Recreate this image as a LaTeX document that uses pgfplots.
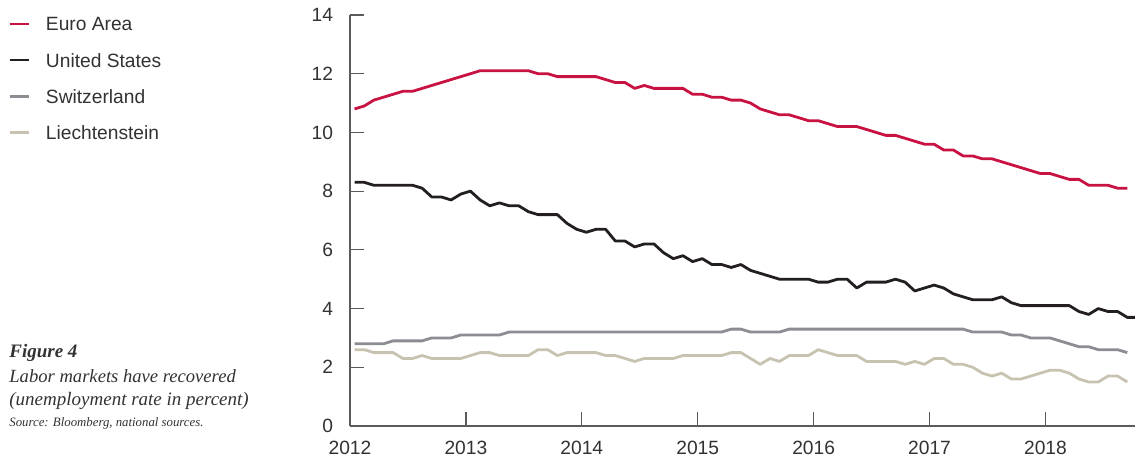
\documentclass[border=0pt]{standalone}
\usepackage{pgfplots}
\pgfplotsset{compat=1.18}
\usepackage{pgfplotstable}
\usepackage{fontspec}
\setmainfont{Liberation Sans}
\newfontfamily\capfont{Liberation Serif}
\definecolor{euro}{RGB}{200,18,66}
\definecolor{usa}{RGB}{35,31,32}
\definecolor{swiss}{RGB}{140,140,146}
\definecolor{liech}{RGB}{200,195,176}
\definecolor{axisgray}{RGB}{90,90,90}
\definecolor{txt}{RGB}{50,50,50}

\pgfplotstableread{
n v
0 10.8
1 10.9
2 11.1
3 11.2
4 11.3
5 11.4
6 11.4
7 11.5
8 11.6
9 11.7
10 11.8
11 11.9
12 12.0
13 12.1
14 12.1
15 12.1
16 12.1
17 12.1
18 12.1
19 12.0
20 12.0
21 11.9
22 11.9
23 11.9
24 11.9
25 11.9
26 11.8
27 11.7
28 11.7
29 11.5
30 11.6
31 11.5
32 11.5
33 11.5
34 11.5
35 11.3
36 11.3
37 11.2
38 11.2
39 11.1
40 11.1
41 11.0
42 10.8
43 10.7
44 10.6
45 10.6
46 10.5
47 10.4
48 10.4
49 10.3
50 10.2
51 10.2
52 10.2
53 10.1
54 10.0
55 9.9
56 9.9
57 9.8
58 9.7
59 9.6
60 9.6
61 9.4
62 9.4
63 9.2
64 9.2
65 9.1
66 9.1
67 9.0
68 8.9
69 8.8
70 8.7
71 8.6
72 8.6
73 8.5
74 8.4
75 8.4
76 8.2
77 8.2
78 8.2
79 8.1
80 8.1
}\euro

\pgfplotstableread{
n v
0 8.3
1 8.3
2 8.2
3 8.2
4 8.2
5 8.2
6 8.2
7 8.1
8 7.8
9 7.8
10 7.7
11 7.9
12 8.0
13 7.7
14 7.5
15 7.6
16 7.5
17 7.5
18 7.3
19 7.2
20 7.2
21 7.2
22 6.9
23 6.7
24 6.6
25 6.7
26 6.7
27 6.3
28 6.3
29 6.1
30 6.2
31 6.2
32 5.9
33 5.7
34 5.8
35 5.6
36 5.7
37 5.5
38 5.5
39 5.4
40 5.5
41 5.3
42 5.2
43 5.1
44 5.0
45 5.0
46 5.0
47 5.0
48 4.9
49 4.9
50 5.0
51 5.0
52 4.7
53 4.9
54 4.9
55 4.9
56 5.0
57 4.9
58 4.6
59 4.7
60 4.8
61 4.7
62 4.5
63 4.4
64 4.3
65 4.3
66 4.3
67 4.4
68 4.2
69 4.1
70 4.1
71 4.1
72 4.1
73 4.1
74 4.1
75 3.9
76 3.8
77 4.0
78 3.9
79 3.9
80 3.7
81 3.7
}\usa

\pgfplotstableread{
n v
0 2.8
1 2.8
2 2.8
3 2.8
4 2.9
5 2.9
6 2.9
7 2.9
8 3.0
9 3.0
10 3.0
11 3.1
12 3.1
13 3.1
14 3.1
15 3.1
16 3.2
17 3.2
18 3.2
19 3.2
20 3.2
21 3.2
22 3.2
23 3.2
24 3.2
25 3.2
26 3.2
27 3.2
28 3.2
29 3.2
30 3.2
31 3.2
32 3.2
33 3.2
34 3.2
35 3.2
36 3.2
37 3.2
38 3.2
39 3.3
40 3.3
41 3.2
42 3.2
43 3.2
44 3.2
45 3.3
46 3.3
47 3.3
48 3.3
49 3.3
50 3.3
51 3.3
52 3.3
53 3.3
54 3.3
55 3.3
56 3.3
57 3.3
58 3.3
59 3.3
60 3.3
61 3.3
62 3.3
63 3.3
64 3.2
65 3.2
66 3.2
67 3.2
68 3.1
69 3.1
70 3.0
71 3.0
72 3.0
73 2.9
74 2.8
75 2.7
76 2.7
77 2.6
78 2.6
79 2.6
80 2.5
}\swiss

\pgfplotstableread{
n v
0 2.6
1 2.6
2 2.5
3 2.5
4 2.5
5 2.3
6 2.3
7 2.4
8 2.3
9 2.3
10 2.3
11 2.3
12 2.4
13 2.5
14 2.5
15 2.4
16 2.4
17 2.4
18 2.4
19 2.6
20 2.6
21 2.4
22 2.5
23 2.5
24 2.5
25 2.5
26 2.4
27 2.4
28 2.3
29 2.2
30 2.3
31 2.3
32 2.3
33 2.3
34 2.4
35 2.4
36 2.4
37 2.4
38 2.4
39 2.5
40 2.5
41 2.3
42 2.1
43 2.3
44 2.2
45 2.4
46 2.4
47 2.4
48 2.6
49 2.5
50 2.4
51 2.4
52 2.4
53 2.2
54 2.2
55 2.2
56 2.2
57 2.1
58 2.2
59 2.1
60 2.3
61 2.3
62 2.1
63 2.1
64 2.0
65 1.8
66 1.7
67 1.8
68 1.6
69 1.6
70 1.7
71 1.8
72 1.9
73 1.9
74 1.8
75 1.6
76 1.5
77 1.5
78 1.7
79 1.7
80 1.5
}\liech

\begin{document}
\begin{tikzpicture}
\useasboundingbox (0,0) rectangle (567.5pt,230pt);
\begin{axis}[
  at={(175pt,17pt)}, anchor=south west,
  scale only axis, width=392.5pt, height=205.5pt,
  xmin=-0.47, xmax=80.8, ymin=0, ymax=14,
  axis x line*=bottom, axis y line*=left,
  axis line style={-, draw=axisgray, line width=0.6pt},
  xtick={-0.47,11.53,23.53,35.53,47.53,59.53,71.53},
  xticklabels={2012,2013,2014,2015,2016,2017,2018},
  ytick={0,2,4,6,8,10,12,14},
  tick align=inside, major tick length=7pt,
  tick style={draw=axisgray, line width=0.6pt},
  /pgf/number format/assume math mode=true,
  ticklabel style={font=\fontsize{9.6}{11}\selectfont, text=txt},
  yticklabel style={xshift=-5pt},
  xticklabel style={yshift=-4pt},
  legend cell align=left,
  legend style={at={(axis description cs:-0.4357,0.9963)}, anchor=north west,
    draw=none, fill=none, inner sep=0pt, row sep=11.1pt, column sep=8pt,
    font=\fontsize{9.6}{11}\selectfont, text=txt,
    nodes={inner sep=0pt, text height=7pt, text depth=0pt}},
  legend image code/.code={\draw[#1, line width=1.3pt] (0pt,0pt) -- (9.5pt,0pt);},
  every axis plot/.append style={line width=1.4pt, line join=round},
]
\addplot[euro] table[x=n, y=v] {\euro};
\addlegendentry{Euro Area}
\addplot[usa] table[x=n, y=v] {\usa};
\addlegendentry{United States}
\addplot[swiss] table[x=n, y=v] {\swiss};
\addlegendentry{Switzerland}
\addplot[liech] table[x=n, y=v] {\liech};
\addlegendentry{Liechtenstein}
\end{axis}
\node[anchor=base west, inner sep=0pt, text=txt] at (4.5pt,51pt) {\capfont\fontsize{9.5}{11}\selectfont\itshape\bfseries Figure 4};
\node[anchor=base west, inner sep=0pt, text=txt] at (4.5pt,38.5pt) {\capfont\fontsize{9.3}{11}\selectfont\itshape Labor markets have recovered};
\node[anchor=base west, inner sep=0pt, text=txt] at (4.5pt,27pt) {\capfont\fontsize{9.5}{11}\selectfont\itshape (unemployment rate in percent)};
\node[anchor=base west, inner sep=0pt, text=txt] at (4.5pt,16.5pt) {\capfont\fontsize{6.4}{7}\selectfont\itshape Source: Bloomberg, national sources.};
\end{tikzpicture}
\end{document}
